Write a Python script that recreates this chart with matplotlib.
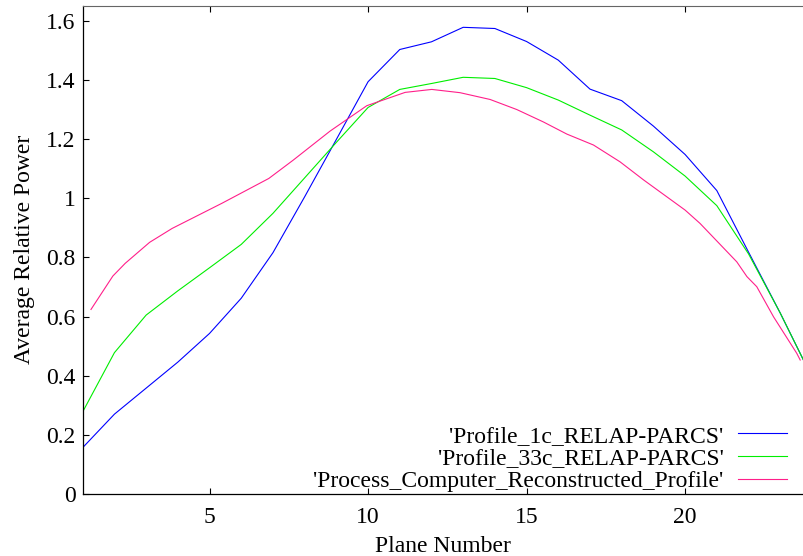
import numpy as np
import matplotlib
matplotlib.use("Agg")
import matplotlib.pyplot as plt

# planes for the two RELAP-PARCS profiles
planes = [1, 2, 3, 4, 5, 6, 7, 8, 9, 10, 11, 12, 13, 14, 15, 16, 17, 18, 19, 20, 21, 22, 23, 24]
profile_1c = [0.157, 0.270, 0.358, 0.446, 0.543, 0.662, 0.816, 1.005, 1.199, 1.394, 1.503, 1.529,
              1.578, 1.574, 1.530, 1.467, 1.369, 1.330, 1.244, 1.148, 1.026, 0.818, 0.612, 0.395]
profile_33c = [0.278, 0.478, 0.605, 0.687, 0.765, 0.844, 0.949, 1.069, 1.189, 1.307, 1.368, 1.388,
               1.409, 1.405, 1.374, 1.332, 1.281, 1.231, 1.157, 1.075, 0.975, 0.812, 0.612, 0.395]

# process computer profile has its own axial positions
pc_x = [1.26, 1.95, 2.34, 3.11, 3.82, 5.39, 6.87, 7.64, 8.80, 9.96, 11.17, 12.01, 12.90, 13.85,
        14.69, 15.53, 16.27, 17.11, 17.95, 18.69, 20.00, 20.47, 21.63, 21.95, 22.26, 22.79,
        23.52, 23.63]
pc_y = [0.624, 0.737, 0.780, 0.851, 0.898, 0.983, 1.067, 1.129, 1.227, 1.313, 1.358, 1.368,
        1.357, 1.334, 1.300, 1.258, 1.217, 1.180, 1.123, 1.062, 0.960, 0.915, 0.785, 0.735,
        0.701, 0.599, 0.476, 0.453]

plt.rcParams['font.family'] = ['Liberation Serif', 'DejaVu Serif']
plt.rcParams['font.size'] = 17

fig = plt.figure(figsize=(8.04, 5.56), dpi=100)
ax = fig.add_axes([0.1029, 0.1115, 1.0 - 0.1029, 0.9897 - 0.1115])

ax.plot(planes, profile_1c, color='#0000ff', lw=0.8, label="'Profile_1c_RELAP-PARCS'")
ax.plot(planes, profile_33c, color='#00ee00', lw=0.8, label="'Profile_33c_RELAP-PARCS'")
ax.plot(pc_x, pc_y, color='#ff1f8a', lw=0.8, label="'Process_Computer_Reconstructed_Profile'")

ax.set_xlim(1, 23.75)
ax.set_ylim(0, 1.651)
ax.set_xticks([5, 10, 15, 20])
ax.set_yticks([0, 0.2, 0.4, 0.6, 0.8, 1.0, 1.2, 1.4, 1.6])
ax.set_yticklabels(['0', '0.2', '0.4', '0.6', '0.8', '1', '1.2', '1.4', '1.6'])
ax.tick_params(direction='in', length=4.3, width=0.8, top=True, right=False)
ax.tick_params(axis='y', pad=5)
ax.tick_params(axis='x', pad=9)

ax.spines['right'].set_visible(False)
ax.spines['top'].set_color('#666666')
for s in ['left', 'bottom']:
    ax.spines[s].set_linewidth(0.9)

ax.set_xlabel('Plane Number', labelpad=6)
ax.set_ylabel('Average Relative Power', labelpad=8)

ax.legend(loc='lower right', bbox_to_anchor=(1.0, -0.03), frameon=False, markerfirst=False,
          handlelength=2.1, handletextpad=0.6, borderaxespad=0.4, borderpad=0.3,
          labelspacing=0.05)

fig.savefig('out.png', dpi=100)
